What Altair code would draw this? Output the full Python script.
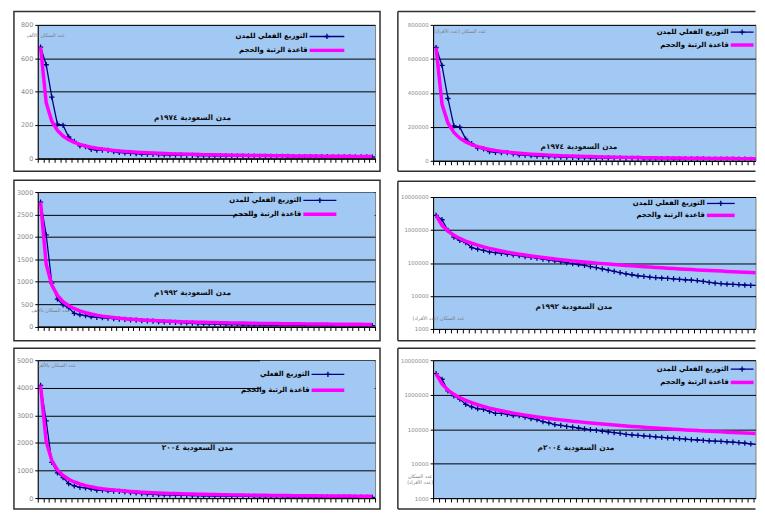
import altair as alt
import pandas as pd

# ---------------- data ----------------
ranks = list(range(1, 61))

actual_1974 = [666840, 561104, 366801, 204857, 198186, 127844, 101271, 74825, 69940, 54325,
               49581, 48817, 47501, 40502, 35000, 32812, 30150, 28000, 26000, 25000,
               24000, 22000, 21000, 20000, 19500, 19000, 18000, 17500, 17000, 16500,
               16000, 15500, 15000, 14500, 14000, 13500, 13000, 12800, 12500, 12200,
               12000, 11800, 11500, 11200, 11000, 10800, 10500, 10300, 10100, 9900,
               9700, 9500, 9300, 9100, 8900, 8700, 8500, 8300, 8100, 7900]
rule_1974 = [666840, 333420, 222280, 166710, 133370, 111140, 95260, 83360, 74090, 66680,
             60620, 55570, 51300, 47630, 44460, 41680, 39230, 37050, 35100, 33340,
             31750, 30310, 28990, 27790, 26670, 25650, 24700, 23820, 22990, 22230,
             21510, 20840, 20210, 19610, 19050, 18520, 18020, 17550, 17100, 16670,
             16260, 15880, 15510, 15160, 14820, 14500, 14190, 13890, 13610, 13340,
             13080, 12820, 12580, 12350, 12120, 11910, 11700, 11500, 11300, 11110]

actual_1992 = [2776000, 2046000, 966000, 608000, 482000, 416000, 293000, 262000, 240000, 217000,
               205000, 195000, 186000, 176000, 166000, 157000, 148000, 140000, 132000, 124000,
               117000, 110000, 103000, 96000, 90000, 84000, 78000, 72000, 66000, 61000,
               56000, 51000, 47000, 44000, 41000, 39000, 37500, 36000, 35000, 34000,
               33000, 32000, 31000, 30000, 29000, 27500, 26000, 24500, 23500, 23000,
               22500, 22000, 21500, 21000, 20800, 20500, 20200, 20000, 19700, 19500]
rule_1992 = [2776000, 1388000, 925300, 694000, 555200, 462700, 396600, 347000, 308400, 277600,
             252400, 231300, 213500, 198300, 185100, 173500, 163300, 154200, 146100, 138800,
             132200, 126200, 120700, 115700, 111000, 106800, 102800, 99100, 95700, 92500,
             89500, 86800, 84100, 81600, 79300, 77100, 75000, 73100, 71200, 69400,
             67700, 66100, 64600, 63100, 61700, 60300, 59100, 57800, 56700, 55500,
             54400, 53400, 52400, 51400, 50500, 49600, 48700, 47900, 47100, 46300]

actual_2004 = [4087000, 2801000, 1294000, 918000, 744000, 521000, 441000, 391000, 373000, 330000,
               287000, 285000, 267000, 249000, 246000, 222000, 201000, 188000, 166000, 152000,
               135000, 128000, 120000, 114000, 108000, 102000, 97000, 92000, 87000, 83000,
               79000, 75000, 71000, 68000, 66000, 64000, 62000, 60000, 58000, 56000,
               54500, 53000, 51500, 50000, 48500, 47000, 46000, 45000, 44000, 43000,
               42000, 40500, 39000, 37500, 36000, 34000, 32500, 31000, 29500, 28500]
rule_2004 = [4087000, 2043500, 1362300, 1021800, 817400, 681200, 583900, 510900, 454100, 408700,
             371500, 340600, 314400, 291900, 272500, 255400, 240400, 227100, 215100, 204400,
             194600, 185800, 177700, 170300, 163500, 157200, 151400, 146000, 140900, 136200,
             131800, 127700, 123800, 120200, 116800, 113500, 110500, 107600, 104800, 102200,
             99700, 97300, 95000, 92900, 90800, 88800, 87000, 85100, 83400, 81700,
             80100, 78600, 77100, 75700, 74300, 73000, 71700, 70500, 69300, 68100]

ticks_1974_k = [0, 200, 400, 600, 800]
ticks_1974_p = [0, 200000, 400000, 600000, 800000]
ticks_1992_k = [0, 500, 1000, 1500, 2000, 2500, 3000]
ticks_2004_k = [0, 1000, 2000, 3000, 4000, 5000]
ticks_log = [1000, 10000, 100000, 1000000, 10000000]

leg_actual = "التوزيع الفعلي للمدن"
leg_actual_short = "التوزيع الفعلي"
leg_rule = "قاعدة الرتبة والحجم"
cap_1974 = "مدن السعودية ١٩٧٤م"
cap_1992 = "مدن السعودية ١٩٩٢م"
cap_2004a = "مدن السعودية ٢٠٠٤"
cap_2004b = "مدن السعودية ٢٠٠٤م"
ytitle_k = "عدد السكان بالألف"
ytitle_p = "عدد السكان (عدد الأفراد)"
ytitle_p1 = "عدد السكان"
ytitle_p2 = "(عدد الأفراد)"

# ---------------- styles ----------------
NAVY = "#000080"
MAGENTA = "#FF00FF"
PLOT_BG = "#A2C8F4"
FONT = "DejaVu Sans"
PLUS = "M-1,0L1,0M0,-1L0,1"
one = pd.DataFrame({"k": [0]})


def panel(actual, rule, div, yscale, yvals, w, h, rect, legend, caption, titles,
          bg=None, lbl=6.5, xmax=None, open_right=False):
    df = pd.DataFrame({"rank": ranks,
                       "actual": [v / div for v in actual],
                       "rule": [v / div for v in rule]})
    n = len(ranks)
    top = xmax if xmax is not None else n + 0.5
    tvals = [i + 0.5 for i in range(n + 1) if i + 0.5 <= top]
    x = alt.X("rank:Q", scale=alt.Scale(domain=[0.5, top], nice=False, zero=False),
              axis=alt.Axis(values=tvals, labels=False, title=None,
                            grid=False, ticks=True, tickSize=4, tickColor="black",
                            domainColor="black", tickWidth=1, domainWidth=1))
    yaxis = alt.Axis(values=yvals, format="d", title=None, grid=True, gridColor="black",
                     gridWidth=1, domainColor="black", domainWidth=1, tickColor="black",
                     tickSize=3, labelColor="#8c8c8c", labelFontSize=lbl, labelFont=FONT,
                     labelPadding=2, labelOverlap=False)
    base = alt.Chart(df).encode(x=x)
    line_a = base.mark_line(color=NAVY, strokeWidth=1.3, clip=True).encode(
        y=alt.Y("actual:Q", scale=yscale, axis=yaxis))
    pts_a = base.mark_point(shape=PLUS, filled=False, color=NAVY, size=28, strokeWidth=1.3,
                            opacity=1, clip=True).encode(
        y=alt.Y("actual:Q", scale=yscale, axis=yaxis))
    line_r = base.mark_line(color=MAGENTA, strokeWidth=3.5, clip=True).encode(
        y=alt.Y("rule:Q", scale=yscale, axis=yaxis))

    o = alt.Chart(one)
    rx0, rx1, ry0, ry1 = rect
    bcol = "#303030"
    if open_right:
        border = [
            o.mark_rule(color=bcol, strokeWidth=1.5).encode(
                x=alt.value(rx0), x2=alt.value(w), y=alt.value(ry0)),
            o.mark_rule(color=bcol, strokeWidth=1.5).encode(
                x=alt.value(rx0), x2=alt.value(w), y=alt.value(h + ry1)),
            o.mark_rule(color=bcol, strokeWidth=1.5).encode(
                x=alt.value(rx0), y=alt.value(ry0), y2=alt.value(h + ry1)),
        ]
    else:
        border = [o.mark_rect(fillOpacity=0, stroke=bcol, strokeWidth=1.5).encode(
            x=alt.value(rx0), x2=alt.value(w + rx1), y=alt.value(ry0), y2=alt.value(h + ry1))]
    layers = list(border)
    if bg is not None:
        layers.append(o.mark_rect(color=PLOT_BG).encode(
            x=alt.value(bg[0]), x2=alt.value(w - 0.5), y=alt.value(0.5), y2=alt.value(bg[1])))
    layers += [line_a, pts_a, line_r]

    tx, sx0, sx1, y1, y2, txt1 = legend
    layers += [
        o.mark_rule(color=NAVY, strokeWidth=1.3).encode(
            x=alt.value(sx0), x2=alt.value(sx1), y=alt.value(y1)),
        o.mark_point(shape=PLUS, filled=False, color=NAVY, size=28, strokeWidth=1.3,
                     opacity=1).encode(x=alt.value((sx0 + sx1) / 2), y=alt.value(y1)),
        o.mark_rule(color=MAGENTA, strokeWidth=3.5).encode(
            x=alt.value(sx0), x2=alt.value(sx1), y=alt.value(y2)),
        o.mark_text(align="right", baseline="middle", font=FONT, fontSize=7,
                    fontWeight="bold", color="black").encode(
            x=alt.value(tx), y=alt.value(y1), text=alt.value(txt1)),
        o.mark_text(align="right", baseline="middle", font=FONT, fontSize=7,
                    fontWeight="bold", color="black").encode(
            x=alt.value(tx), y=alt.value(y2), text=alt.value(leg_rule)),
    ]
    cx, cy, ctext = caption
    layers.append(o.mark_text(align="center", baseline="middle", font=FONT, fontSize=7.5,
                              fontWeight="bold", color="#101010").encode(
        x=alt.value(cx), y=alt.value(cy), text=alt.value(ctext)))
    for (ttx, tty, ttext) in titles:
        layers.append(o.mark_text(align="center", baseline="middle", font=FONT, fontSize=5,
                                  color="#7a7a7a").encode(
            x=alt.value(ttx), y=alt.value(tty), text=alt.value(ttext)))
    return alt.layer(*layers).properties(width=w, height=h)


lin = lambda top: alt.Scale(domain=[0, top], nice=False, zero=True)
logs = alt.Scale(type="log", domain=[1000, 10000000], nice=False)
LW = 340
RW = 325
RX = 54.8  # visible rank range in the right-hand (cropped) panels

L1 = panel(actual_1974, rule_1974, 1000, lin(800), ticks_1974_k, LW, 134.5,
           (-24, 5, -13.5, 13),
           (272, 274, 309, 11.7, 25.7, leg_actual),
           (156, 94, cap_1974), [(8, 10.7, ytitle_k)])
L2 = panel(actual_1992, rule_1992, 1000, lin(3000), ticks_1992_k, LW, 135.5,
           (-24, 5, -12, 14.5),
           (265.7, 267.7, 301, 8.3, 22.3, leg_actual),
           (156, 102, cap_1992), [(13, 118.5, ytitle_k)], bg=(217, 30))
L3 = panel(actual_2004, rule_2004, 1000, lin(5000), ticks_2004_k, LW, 139,
           (-24, 5, -12, 11),
           (274, 276, 309, 14.3, 30.3, leg_actual_short),
           (161, 89, cap_2004a), [(19, 5, ytitle_k)], bg=(224, 37))
R1 = panel(actual_1974, rule_1974, 1, lin(800000), ticks_1974_p, RW, 137,
           (-35.5, 0, -13.5, 10.5),
           (298, 300, 323, 7.3, 20.3, leg_actual),
           (147, 123.3, cap_1974), [(27, 6.3, ytitle_p)], lbl=5.5, xmax=RX, open_right=True)
R2 = panel(actual_1992, rule_1992, 1, logs, ticks_log, RW, 133,
           (-35.5, 0, -16, 12),
           (274, 276, 304, 6.5, 18.5, leg_actual),
           (142, 111, cap_1992), [(5.5, 121.7, ytitle_p)], lbl=5.5, xmax=RX, open_right=True)
R3 = panel(actual_2004, rule_2004, 1, logs, ticks_log, RW, 139,
           (-35.5, 0, -12, 11),
           (298, 300, 323, 9, 22.4, leg_actual),
           (144, 88.7, cap_2004b), [(-13, 117, ytitle_p1), (-13, 123, ytitle_p2)], lbl=5.5,
           xmax=RX, open_right=True)

PAD = {"left": 4, "top": 0, "right": 0, "bottom": 0}
col_left = alt.vconcat(L1, alt.vconcat(L2, L3, spacing=3.5), spacing=5.5)
col_right = alt.vconcat(R1, alt.vconcat(R2, R3, spacing=3.5), spacing=6.5)
chart = alt.hconcat(col_left, col_right, spacing=14.5).properties(
    padding=PAD
).configure(background="white", padding=PAD).configure_view(
    fill=PLOT_BG, stroke="#808080", strokeWidth=1)

chart.save("out.html", embed_options={"renderer": "svg", "actions": False})
